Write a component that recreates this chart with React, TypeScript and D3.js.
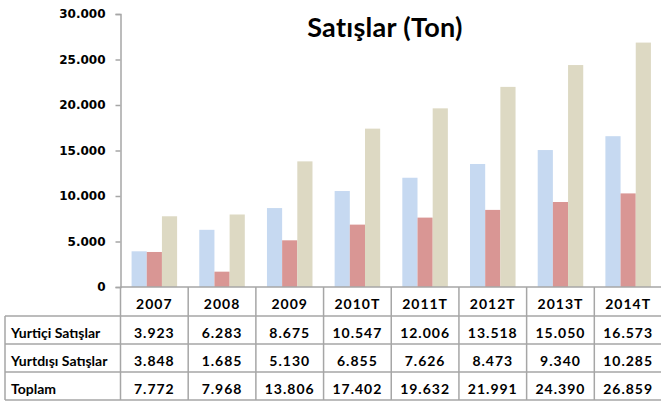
import React, { useRef, useEffect } from 'react';
import * as d3 from 'd3';

// values
const years = ['2007', '2008', '2009', '2010T', '2011T', '2012T', '2013T', '2014T'];
const yurtici = [3923, 6283, 8675, 10547, 12006, 13518, 15050, 16573];
const yurtdisi = [3848, 1685, 5130, 6855, 7626, 8473, 9340, 10285];
const toplam = [7772, 7968, 13806, 17402, 19632, 21991, 24390, 26859];
const seriesNames = ['Yurtiçi Satışlar', 'Yurtdışı Satışlar', 'Toplam'];
const seriesColours = ['#c6d9f1', '#d99694', '#ddd9c3'];
const yTicks = [0, 5000, 10000, 15000, 20000, 25000, 30000];

const fmt = (v: number) => d3.format(',')(v).replace(/,/g, '.');

const App = () => {
    const svgRef = useRef<SVGSVGElement>(null);

    useEffect(() => {
        if (!svgRef.current) return;
        const W = 661;
        const H = 403;
        const axisX = 120.5;
        const rightX = 662;
        const baseY = 287;
        const topY = 14;
        const rowTops = [287, 316, 344, 372, 400];
        const tableLeft = 5;
        const lineColour = '#a6a6a6';

        const svg = d3.select(svgRef.current);
        svg.selectAll('*').remove();
        svg.attr('width', W).attr('height', H);

        const x = d3.scaleBand().domain(years).range([axisX, rightX]);
        const xs = d3.scaleBand().domain(seriesNames).range([0, x.bandwidth()]).paddingOuter(0.73);
        const y = d3.scaleLinear().domain([0, 30000]).range([baseY, topY]);

        const allSeries = [yurtici, yurtdisi, toplam];

        // bars
        const g = svg.append('g');
        allSeries.forEach((vals, si) => {
            g.selectAll(`.bar-${si}`)
                .data(vals)
                .enter().append('rect')
                .attr('x', (_, i) => (x(years[i]) as number) + (xs(seriesNames[si]) as number))
                .attr('y', d => y(d))
                .attr('width', xs.bandwidth())
                .attr('height', d => baseY - y(d))
                .attr('fill', seriesColours[si]);
        });

        // y axis
        const yAxis = svg.append('g')
            .attr('transform', `translate(${axisX},0)`)
            .call(d3.axisLeft(y).tickValues(yTicks).tickSize(5).tickPadding(10).tickFormat(d => fmt(d as number)));
        yAxis.select('.domain').attr('stroke', lineColour).attr('stroke-width', 1.5);
        yAxis.selectAll('.tick line').attr('stroke', lineColour).attr('stroke-width', 1.5);
        yAxis.selectAll('.tick text')
            .style('font-family', 'DejaVu Sans')
            .style('font-weight', 'bold')
            .style('font-size', '12px')
            .attr('fill', '#000');

        // title
        svg.append('text')
            .attr('x', 385)
            .attr('y', 37)
            .attr('text-anchor', 'middle')
            .style('font-family', 'Lato')
            .style('font-weight', 'bold')
            .style('font-size', '27px')
            .style('letter-spacing', '0.3px')
            .text('Satışlar (Ton)');

        // table grid
        const grid = svg.append('g').attr('stroke', lineColour).attr('stroke-width', 1.5);
        grid.append('line').attr('x1', axisX).attr('x2', rightX).attr('y1', rowTops[0]).attr('y2', rowTops[0]);
        rowTops.slice(1).forEach(ry => {
            grid.append('line').attr('x1', tableLeft).attr('x2', rightX).attr('y1', ry).attr('y2', ry);
        });
        grid.append('line').attr('x1', tableLeft).attr('x2', tableLeft).attr('y1', rowTops[1]).attr('y2', rowTops[4]);
        grid.append('line').attr('x1', axisX).attr('x2', axisX).attr('y1', rowTops[0]).attr('y2', rowTops[4]);
        years.forEach(yr => {
            const bx = (x(yr) as number) + x.bandwidth();
            grid.append('line').attr('x1', bx).attr('x2', bx).attr('y1', rowTops[0]).attr('y2', rowTops[4]);
        });

        const cellText = (sel: any) => sel
            .style('font-family', 'Lato')
            .style('font-weight', 'bold')
            .style('font-size', '14px')
            .attr('fill', '#000')
            .attr('dominant-baseline', 'central');

        // header row
        years.forEach(yr => {
            svg.append('text')
                .attr('x', (x(yr) as number) + x.bandwidth() / 2)
                .attr('y', (rowTops[0] + rowTops[1]) / 2 + 2)
                .attr('text-anchor', 'middle')
                .call(cellText)
                .style('letter-spacing', '1px')
                .text(yr);
        });

        // data rows
        allSeries.forEach((vals, si) => {
            const cy = (rowTops[si + 1] + rowTops[si + 2]) / 2 + 2;
            svg.append('text')
                .attr('x', 11)
                .attr('y', cy)
                .call(cellText)
                .text(seriesNames[si]);
            vals.forEach((v, i) => {
                svg.append('text')
                    .attr('x', (x(years[i]) as number) + x.bandwidth() / 2)
                    .attr('y', cy)
                    .attr('text-anchor', 'middle')
                    .call(cellText)
                    .style('letter-spacing', '1px')
                    .text(fmt(v));
            });
        });
    }, []);

    return (
        <div style={{ position: 'absolute', left: 0, top: 0, background: '#fff' }}>
            <svg ref={svgRef} style={{ display: 'block' }}></svg>
        </div>
    );
};

export default App;
